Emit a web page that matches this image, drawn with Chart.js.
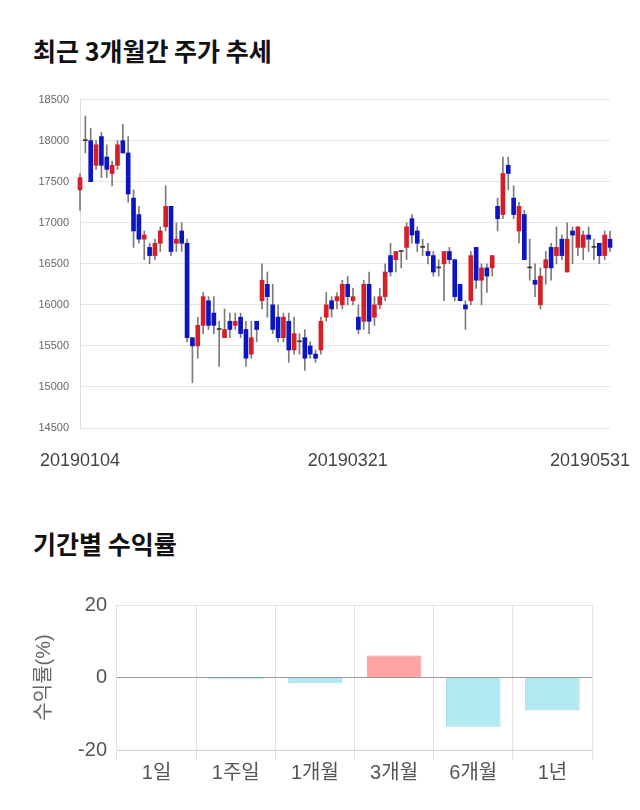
<!DOCTYPE html>
<html>
<head>
<meta charset="utf-8">
<script src="https://cdn.jsdelivr.net/npm/chart.js@4.4.1/dist/chart.umd.min.js"></script>
<style>
  body { margin: 0; background: #fff; width: 640px; height: 810px; position: relative; overflow: hidden; font-family: "Noto Sans CJK KR", sans-serif; }
  .title { position: absolute; left: 33px; font-size: 25px; font-weight: bold; color: #111; line-height: 32px; }
  #t1 { top: 34px; }
  #t2 { top: 527px; }
  #box1 { position: absolute; left: 0; top: 82px; }
  #box2 { position: absolute; left: 0; top: 580px; }
</style>
</head>
<body>
<div class="title" id="t1">최근 3개월간 주가 추세</div>
<div class="title" id="t2">기간별 수익률</div>
<div id="box1"><canvas id="priceChart" width="640" height="390"></canvas></div>
<div id="box2"><canvas id="returnChart" width="640" height="220"></canvas></div>
<script>
// trading days shown in the candle chart
const dates = [
  '20190104','20190107','20190108','20190109','20190110','20190111','20190114','20190115','20190116','20190117',
  '20190118','20190121','20190122','20190123','20190124','20190125','20190128','20190129','20190130','20190131',
  '20190201','20190207','20190208','20190211','20190212','20190213','20190214','20190215','20190218','20190219',
  '20190220','20190221','20190222','20190225','20190226','20190227','20190228',
  '20190304','20190305','20190306','20190307','20190308','20190311','20190312','20190313','20190314','20190315',
  '20190318','20190319','20190320','20190321','20190322','20190325','20190326','20190327','20190328','20190329',
  '20190401','20190402','20190403','20190404','20190405','20190408','20190409','20190410','20190411','20190412',
  '20190415','20190416','20190417','20190418','20190419','20190422','20190423','20190424','20190425','20190426',
  '20190429','20190430',
  '20190502','20190503','20190507','20190508','20190509','20190510','20190513','20190514','20190515','20190516',
  '20190517','20190520','20190521','20190522','20190523','20190524','20190527','20190528','20190529','20190530',
  '20190531'
];
const opens = [
  17400,18000,18000,17700,18050,17800,17600,17700,18000,17850,
  17300,17100,16800,16700,16600,16750,16950,17200,16750,16900,
  16750,15600,15500,15750,16050,15900,15700,15600,15800,15750,
  15850,15700,15400,15800,16050,16250,16000,15850,15600,15800,
  15450,15550,15600,15500,15400,15450,15850,16050,16050,16000,
  16250,16050,15850,15800,16250,15850,16000,16100,16600,16550,
  16650,16700,17050,16900,16700,16650,16600,16450,16500,16650,
  16550,16250,16000,16050,16700,16300,16450,16450,17200,17100,
  17700,17300,16900,17100,16450,16300,16000,16450,16700,16600,
  16800,16400,16900,16700,16700,16850,16700,16750,16600,16800
];
const highs = [
  17600,18300,18150,18000,18100,17950,17750,18000,18200,18050,
  17400,17200,16900,16750,16800,16950,17450,17200,17000,17000,
  16800,15600,15850,16150,16100,16100,15800,15950,15900,15900,
  15900,15800,15800,15800,16500,16400,16250,16000,15900,15900,
  15850,15650,15700,15550,15450,15850,16150,16100,16150,16300,
  16350,16200,16000,16300,16400,16100,16200,16500,16750,16650,
  16650,17000,17100,16950,16800,16750,16650,16550,16650,16700,
  16550,16250,16050,16650,16700,16500,16500,16600,17300,17800,
  17800,17450,17250,17150,16800,16500,16450,16650,16750,16950,
  16850,17000,16950,16950,16900,16950,16800,16750,16900,16900
];
const lows = [
  17150,17850,17500,17650,17550,17550,17450,17650,17850,17250,
  16700,16750,16550,16500,16550,16650,16900,16600,16650,16650,
  15550,15050,15350,15650,15700,15650,15250,15600,15600,15700,
  15600,15250,15350,15550,15950,15850,15650,15550,15550,15300,
  15400,15400,15200,15350,15300,15400,15800,15850,15950,15950,
  16000,16000,15650,15700,15650,15750,15950,16050,16350,16400,
  16450,16550,16750,16650,16600,16500,16350,16350,16050,16500,
  16050,16050,15700,16000,16200,16000,16150,16350,16900,17050,
  17400,17050,16750,16550,16300,16100,15950,16250,16300,16500,
  16550,16400,16500,16600,16550,16650,16550,16500,16550,16650
];
const closes = [
  17550,18000,17500,17950,17700,17650,17700,17950,17850,17350,
  16900,16800,16850,16600,16750,16900,17200,16650,16800,16750,
  15600,15500,15750,16100,15750,15750,15700,15700,15700,15800,
  15650,15350,15600,15700,16300,16100,15700,15600,15850,15450,
  15650,15550,15350,15400,15350,15800,16000,15950,16100,16250,
  16100,16100,15700,16250,15800,16000,16100,16400,16400,16650,
  16650,16950,16850,16750,16700,16600,16400,16450,16650,16550,
  16100,16050,15950,16600,16300,16450,16350,16600,17050,17600,
  17600,17100,17200,16550,16450,16250,16350,16550,16450,16700,
  16600,16800,16850,16950,16850,16800,16700,16600,16850,16700
];
const tickDates = ['20190104', '20190321', '20190531'];

const periods = ['1일', '1주일', '1개월', '3개월', '6개월', '1년'];
const returns = [0, -0.5, -1.6, 6.1, -13.6, -9.1];

Chart.defaults.font.family = '"Liberation Sans", "Noto Sans CJK KR", sans-serif';

const candleColors = opens.map((o, i) => closes[i] > o ? '#d41f27' : (closes[i] < o ? '#0b15c4' : '#333333'));

// draws the three date labels under the candles, kept inside the canvas
const dateLabels = {
  id: 'dateLabels',
  afterDraw(chart) {
    const { ctx, chartArea } = chart;
    const x = chart.scales.x;
    ctx.save();
    ctx.font = '18px "Liberation Sans", Arial, sans-serif';
    ctx.fillStyle = '#444';
    ctx.textAlign = 'center';
    ctx.textBaseline = 'middle';
    tickDates.forEach(d => {
      const w = ctx.measureText(d).width;
      let px = x.getPixelForValue(dates.indexOf(d));
      px = Math.min(px, chart.width - 10 - w / 2);
      ctx.fillText(d, px, chartArea.bottom + 33);
    });
    ctx.restore();
  }
};

new Chart('priceChart', {
  type: 'bar',
  data: {
    labels: dates,
    datasets: [
      {
        data: opens.map((o, i) => [o, closes[i]]),
        backgroundColor: candleColors,
        barThickness: 4,
        minBarLength: 1,
        grouped: false,
        clip: false
      },
      {
        data: lows.map((l, i) => [l, highs[i]]),
        backgroundColor: '#7b7b7b',
        barThickness: 1,
        grouped: false,
        clip: false
      }
    ]
  },
  options: {
    responsive: false,
    animation: false,
    layout: { padding: { top: 11, right: 30, bottom: 36, left: 0 } },
    plugins: { legend: { display: false }, tooltip: { enabled: false } },
    scales: {
      x: {
        offset: false,
        grid: { display: false },
        border: { display: false },
        ticks: { display: false }
      },
      y: {
        min: 14500,
        max: 18500,
        ticks: { stepSize: 500, padding: 11, color: '#666', font: { size: 11 }, callback: v => String(v) },
        grid: { color: '#e6e6e6', drawTicks: false },
        border: { display: true, color: '#dddddd' },
        afterFit: s => { s.width = 80; }
      }
    }
  },
  plugins: [dateLabels]
});

new Chart('returnChart', {
  type: 'bar',
  data: {
    labels: periods,
    datasets: [{
      data: returns,
      backgroundColor: returns.map(v => v >= 0 ? '#ffa3a3' : '#b3e9f3'),
      borderColor: returns.map(v => v >= 0 ? '#f29494' : '#9dd9e5'),
      borderWidth: 1,
      categoryPercentage: 1,
      barPercentage: 0.69
    }]
  },
  options: {
    responsive: false,
    animation: false,
    layout: { padding: { top: 25, right: 48, bottom: 14, left: 28 } },
    plugins: { legend: { display: false }, tooltip: { enabled: false } },
    scales: {
      x: {
        grid: { color: '#e3e3e3', tickLength: 10 },
        border: { display: true, color: '#d0d0d0' },
        ticks: { color: '#555', font: { size: 20 }, padding: 1 }
      },
      y: {
        min: -20,
        max: 20,
        ticks: { stepSize: 20, color: '#555', font: { size: 20 }, padding: 10 },
        grid: { color: c => c.tick && c.tick.value === 0 ? '#999999' : '#e3e3e3', drawTicks: false },
        border: { display: false },
        title: { display: true, text: '수익률(%)', color: '#666', font: { size: 20 } },
        afterFit: s => { s.width = 89; }
      }
    }
  }
});
</script>
</body>
</html>
